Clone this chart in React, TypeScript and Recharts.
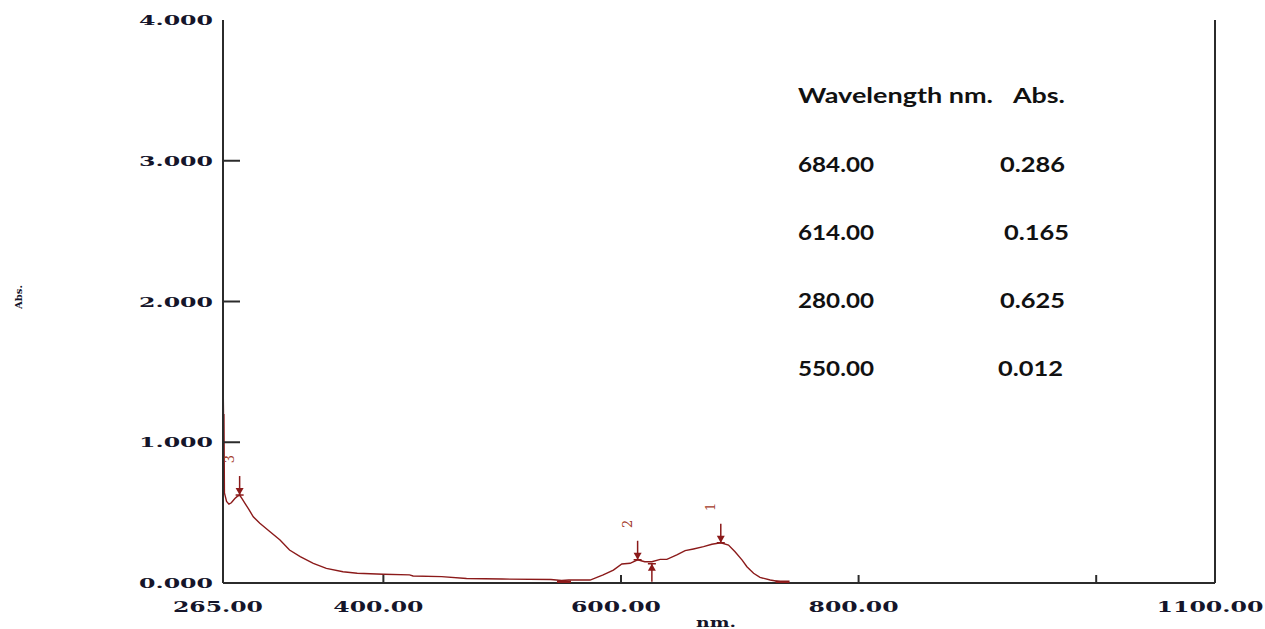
import React from 'react';
import { ComposedChart, Line, Scatter, XAxis, YAxis } from 'recharts';

// spectrum
const wavelengths = [
  265, 265.4, 265.6, 265.8, 266.2, 268, 270, 272, 275, 277, 279, 281, 283.5, 287, 290.5, 296, 304.6, 313,
  321, 330, 341, 352, 366, 378, 400, 422, 425, 449, 470, 500, 541, 550, 556, 574, 585, 593.6, 600.7,
  607.7, 614, 620, 626, 633, 638.6, 647, 654, 661, 669.5, 676.5, 684, 690.5, 696, 702, 706, 711.6,
  717, 725.6, 734, 740,
];
const absorbance = [
  1.48, 1.22, 0.66, 1.2, 0.64, 0.58, 0.56, 0.57, 0.6, 0.615, 0.625, 0.6, 0.566, 0.52, 0.47, 0.424, 0.364, 0.305,
  0.234, 0.187, 0.14, 0.104, 0.08, 0.069, 0.062, 0.058, 0.05, 0.045, 0.032, 0.028, 0.025, 0.018, 0.021, 0.021,
  0.057, 0.092, 0.135, 0.14, 0.165, 0.151, 0.151, 0.168, 0.168, 0.199, 0.23, 0.242, 0.258, 0.275, 0.286,
  0.27, 0.222, 0.163, 0.116, 0.069, 0.04, 0.021, 0.009, 0.008,
];

// peak / valley picks
const markerNm = [684, 614, 279, 626, 552, 736];
const markerAbs = [0.286, 0.165, 0.625, 0.151, 0.0, 0.0];
const markerKind = ['peak', 'peak', 'peak', 'valley', 'base', 'base'];
const markerLabel = ['1', '2', '3', '', '', ''];

const xTicks = [265, 400, 600, 800, 1000, 1100];
const xTickLabels = ['265.00', '400.00', '600.00', '800.00', '', '1100.00'];
const yTicks = [0, 1, 2, 3, 4];
const yTickLabels = ['0.000', '1.000', '2.000', '3.000', '4.000'];

const tableHeader = ['Wavelength nm.', 'Abs.'];
const tableNm = ['684.00', '614.00', '280.00', '550.00'];
const tableAbs = ['0.286', '0.165', '0.625', '0.012'];

const spectrum = wavelengths.map((nm, i) => ({ nm, abs: absorbance[i] }));
const markers = markerNm.map((nm, i) => ({ nm, abs: markerAbs[i], kind: markerKind[i], label: markerLabel[i] }));

const RED = '#8b1a1a';
const AXIS = '#2b2b2b';
const axisFont = '"DejaVu Serif", serif';

const YTick = (props: any) => {
  const { x, y, payload } = props;
  const idx = yTicks.indexOf(payload.value);
  const txt = yTickLabels[idx];
  return (
    <g>
      {payload.value > 0 && payload.value < 4 && (
        <line x1={x} x2={x + 17} y1={y} y2={y} stroke={AXIS} strokeWidth={2} />
      )}
      <text x={x - 10} y={y + 5} textAnchor="end" fontFamily={axisFont} fontWeight="bold" fontSize={13}
        fill="#15152a" textLength={74} lengthAdjust="spacingAndGlyphs">{txt}</text>
    </g>
  );
};

const RightTick = (props: any) => {
  const { x, y, payload } = props;
  if (payload.value <= 0 || payload.value >= 4) return <g />;
  return <line x1={x - 18} x2={x} y1={y} y2={y} stroke={AXIS} strokeWidth={2} />;
};

const XTick = (props: any) => {
  const { x, y, payload } = props;
  const idx = xTicks.indexOf(payload.value);
  const txt = xTickLabels[idx];
  const edge = payload.value === 265 || payload.value === 1100;
  return (
    <g>
      {!edge && <line x1={x} x2={x} y1={y} y2={y - 8} stroke={AXIS} strokeWidth={2} />}
      {txt && (
        <text x={x - 5} y={y + 29} textAnchor="middle" fontFamily={axisFont} fontWeight="bold" fontSize={15}
          fill="#15152a" textLength={txt.length > 6 ? 107 : 90} lengthAdjust="spacingAndGlyphs">{txt}</text>
      )}
    </g>
  );
};

const Marker = (props: any) => {
  const { cx, cy, payload } = props;
  if (cx == null || cy == null) return <g />;
  if (payload.kind === 'base') {
    return <line x1={cx - 7} x2={cx + 7} y1={cy - 1} y2={cy - 1} stroke={RED} strokeWidth={3} />;
  }
  if (payload.kind === 'valley') {
    return (
      <g>
        <line x1={cx} x2={cx} y1={cy + 2} y2={cy + 20} stroke={RED} strokeWidth={1.5} />
        <polygon points={`${cx},${cy + 2} ${cx - 4},${cy + 9} ${cx + 4},${cy + 9}`} fill={RED} />
        <line x1={cx - 4} x2={cx + 4} y1={cy + 2} y2={cy + 2} stroke={RED} strokeWidth={1.5} />
      </g>
    );
  }
  return (
    <g>
      <line x1={cx} x2={cx} y1={cy - 19} y2={cy} stroke={RED} strokeWidth={1.5} />
      <polygon points={`${cx},${cy} ${cx - 4},${cy - 7} ${cx + 4},${cy - 7}`} fill={RED} />
      <line x1={cx - 4} x2={cx + 4} y1={cy} y2={cy} stroke={RED} strokeWidth={1.5} />
      <text x={cx - 10} y={cy - 36} textAnchor="middle" dominantBaseline="central" fontFamily={axisFont}
        fontSize={13} fill="#a33a2a" transform={`rotate(-90 ${cx - 10} ${cy - 36})`}>{payload.label}</text>
    </g>
  );
};

export default function App() {
  return (
    <div style={{ position: 'absolute', left: 0, top: 0, width: 1265, height: 629, background: '#fff' }}>
      <ComposedChart width={1265} height={629} margin={{ top: 20, right: 0, bottom: 0, left: 0 }}>
        <XAxis dataKey="nm" type="number" domain={[265, 1100]} ticks={xTicks} height={46}
          axisLine={{ stroke: AXIS, strokeWidth: 2 }} tickLine={false} tickSize={0} tickMargin={0}
          tick={<XTick />} interval={0} allowDataOverflow />
        <XAxis xAxisId="t" orientation="top" type="number" domain={[265, 1100]} height={0}
          axisLine={{ stroke: AXIS, strokeWidth: 2 }} tick={false} tickLine={false} />
        <YAxis type="number" domain={[0, 4]} ticks={yTicks} width={223}
          axisLine={{ stroke: AXIS, strokeWidth: 2 }} tickLine={false} tickSize={0} tickMargin={0}
          tick={<YTick />} interval={0} allowDataOverflow />
        <YAxis yAxisId="r" orientation="right" type="number" domain={[0, 4]} ticks={yTicks} width={50}
          axisLine={{ stroke: AXIS, strokeWidth: 2 }} tickLine={false} tickSize={0} tickMargin={0}
          tick={<RightTick />} interval={0} />
        <Line data={spectrum} dataKey="abs" type="linear" stroke={RED} strokeWidth={1.4} dot={false}
          isAnimationActive={false} />
        <Scatter data={markers} dataKey="abs" shape={<Marker />} isAnimationActive={false} />
      </ComposedChart>
      <svg width={1265} height={629} style={{ position: 'absolute', left: 0, top: 0, pointerEvents: 'none' }}>
        <text x={18} y={297} textAnchor="middle" dominantBaseline="central" fontFamily={axisFont}
          fontWeight="bold" fontSize={10} fill="#15152a" transform="rotate(-90 18 297)">Abs.</text>
        <text x={716} y={627} textAnchor="middle" fontFamily={axisFont} fontWeight="bold" fontSize={12}
          fill="#15152a" textLength={40} lengthAdjust="spacingAndGlyphs">nm.</text>
        <g fontFamily="Lato, sans-serif" fontWeight="bold" fontSize={21} fill="#111">
          <text x={798} y={103} textLength={195} lengthAdjust="spacingAndGlyphs">{tableHeader[0]}</text>
          <text x={1013} y={103} textLength={52} lengthAdjust="spacingAndGlyphs">{tableHeader[1]}</text>
          {tableNm.map((t, i) => (
            <text key={'n' + i} x={798} y={172 + i * 68} textLength={76} lengthAdjust="spacingAndGlyphs">{t}</text>
          ))}
          {tableAbs.map((t, i) => (
            <text key={'a' + i} x={i === 1 ? 1004 : i === 3 ? 998 : 1000} y={172 + i * 68} textLength={65}
              lengthAdjust="spacingAndGlyphs">{t}</text>
          ))}
        </g>
      </svg>
    </div>
  );
}
